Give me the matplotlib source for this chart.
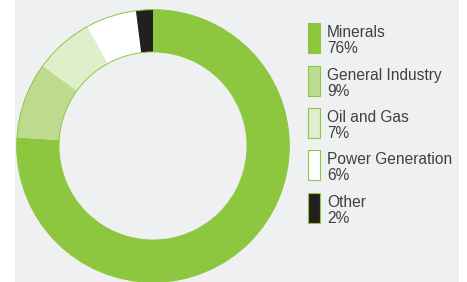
import matplotlib
matplotlib.use("Agg")
import matplotlib.pyplot as plt
from matplotlib.patches import Rectangle, Circle

categories = ["Minerals", "General Industry", "Oil and Gas", "Power Generation", "Other"]
values = [76, 9, 7, 6, 2]
labels = ["76%", "9%", "7%", "6%", "2%"]
colors = ["#8dc63f", "#bddb8f", "#dfeecb", "#ffffff", "#231f20"]
edge_green = "#8dc63f"

W, H = 467, 282
fig = plt.figure(figsize=(W / 100, H / 100), dpi=100, facecolor="white")

# background panel
bg = fig.add_axes([15 / W, 0, (459 - 15) / W, 1])
bg.set_facecolor("#eff0f2")
bg.set_xticks([]); bg.set_yticks([])
for s in bg.spines.values():
    s.set_visible(False)

# donut
cx, cy, R = 153, H - 146, 137
ax = fig.add_axes([(cx - R) / W, (cy - R) / H, 2 * R / W, 2 * R / H])
ax.set_aspect("equal")
ax.axis("off")
width = 0.31
ax.pie(values, colors=colors, startangle=90, counterclock=False, radius=1,
       wedgeprops=dict(width=width, edgecolor="none", linewidth=0))
ax.add_patch(Circle((0, 0), 1, fill=False, edgecolor=edge_green, lw=0.7))
ax.add_patch(Circle((0, 0), 1 - width, fill=False, edgecolor=edge_green, lw=0.7))
ax.set_xlim(-1.005, 1.005); ax.set_ylim(-1.005, 1.005)

# legend
tops = [23, 66, 108, 150, 193]
for name, lab, col, top in zip(categories, labels, colors, tops):
    fig.patches.append(Rectangle((308 / W, (H - top - 30) / H), 12 / W, 30 / H,
                                 transform=fig.transFigure, facecolor=col,
                                 edgecolor=edge_green, lw=0.8))
    fig.text(327 / W, (H - top - 2) / H, name + "\n" + lab, ha="left", va="top",
             fontsize=11.2, color="#404040", linespacing=1.12,
             family="Liberation Sans")

fig.savefig("out.png", dpi=100, facecolor="white")
